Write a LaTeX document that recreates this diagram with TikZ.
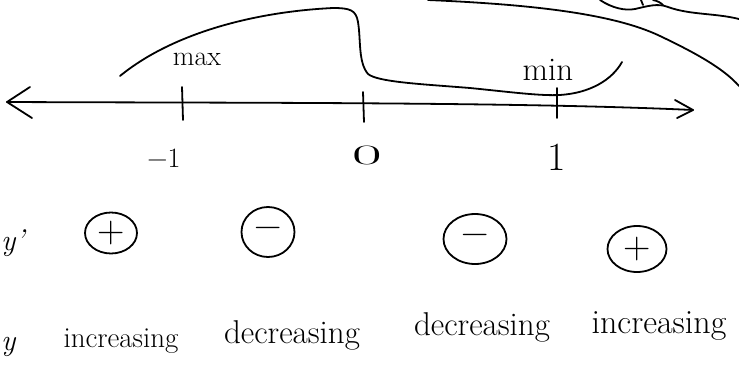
\documentclass[tikz,border=0pt]{standalone}
\usepackage{fontspec}
\usetikzlibrary{shapes.geometric}
\newcommand{\fsz}[1]{\fontsize{#1}{#1}\selectfont}
\begin{document}
\begin{tikzpicture}[x=1pt,y=-1pt,
  ink/.style={line width=1.8pt,line cap=round,line join=round},
  txt/.style={inner sep=0pt,anchor=base,font=\fsz{#1}},
  txt/.default=28,
  sign/.style={ink,draw,ellipse,inner sep=0pt,font=\fsz{38}}]
\useasboundingbox (0,0) rectangle (739,381);

% number line with open arrow heads
\coordinate (axL) at (7,102);
\coordinate (axR) at (693,110);
\draw[ink] (axL) .. controls (250,103) and (520,102) .. (axR);
\draw[ink] (30,87) -- (axL) -- (32,118);
\draw[ink] (675,100) -- (axR) -- (677,118);

% tick marks
\draw[ink] (182,87) -- (183,120);
\draw[ink] (363,92) -- (364,122);
\draw[ink] (557,88) -- (557,118);

% tick labels
\node[inner sep=0pt,font=\fsz{28}] (lm1) at (164,158) {−1};
\node[inner sep=0pt,font=\fsz{28}] (l0) at (367,155) {\scalebox{2.3}[1]{0}};
\node[inner sep=0pt,font=\fsz{40}] (lp1) at (557,157) {1};

% sketch of the graph
\draw[ink] (120,76) .. controls (170,35) and (250,12) .. (333,8)
  .. controls (350,8) and (356,10) .. (358,22)
  .. controls (361,40) and (358,62) .. (368,74)
  .. controls (378,82) and (420,84) .. (470,88)
  .. controls (510,92) and (540,96) .. (560,95)
  .. controls (590,93) and (612,80) .. (622,62);
\node[txt] (max) at (197,65) {max};
\node[txt=33] (min) at (548,80) {min};

% other strokes along the top edge
\draw[ink] (428,0) .. controls (520,4) and (610,12) .. (660,36)
  .. controls (700,55) and (725,70) .. (739,86);
\draw[ink] (600,0) .. controls (612,8) and (625,11) .. (635,9)
  .. controls (648,6) and (658,3) .. (668,7)
  .. controls (690,15) and (715,13) .. (739,19);
\draw[ink] (641,0) -- (643,5);
\draw[ink] (653,0) .. controls (658,1) and (661,3) .. (663,5);

% sign of y'
\node[txt=30,anchor=base west] (yp) at (1,250) {\itshape y\textquoteright};
\node[sign,minimum width=52pt,minimum height=41pt] (s1) at (111,233) {+};
\node[sign,minimum width=53pt,minimum height=50pt] (s2) at (268,232) {−};
\node[sign,minimum width=63pt,minimum height=50pt] (s3) at (475,239) {−};
\node[sign,minimum width=59pt,minimum height=46pt] (s4) at (637,249) {+};

% behaviour of y
\node[txt=30,anchor=base west] (y) at (1,350) {\itshape y};
\node[txt=29] (inc1) at (121,347) {increasing};
\node[txt=33] (dec1) at (292,343) {decreasing};
\node[txt=33] (dec2) at (482,335) {decreasing};
\node[txt=34] (inc2) at (659,333) {increasing};
\end{tikzpicture}
\end{document}
